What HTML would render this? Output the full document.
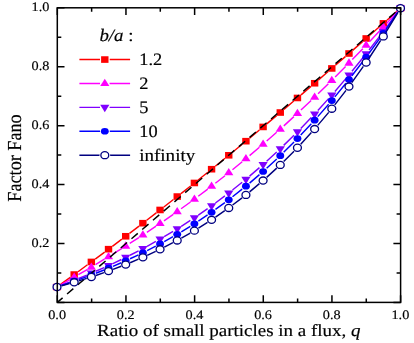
<!DOCTYPE html>
<html><head><meta charset="utf-8"><title>Factor Fano</title>
<style>html,body{margin:0;padding:0;background:#fff;}svg{display:block;will-change:transform;}text{font-family:"Liberation Serif",serif;fill:#000;stroke:#000;stroke-width:0.18px;text-rendering:geometricPrecision;}</style></head>
<body><svg width="414" height="343" viewBox="0 0 414 343">
<path d="M60.88,284.20L70.29,277.37 M78.04,271.71L87.48,264.78 M95.20,259.08L104.67,252.05 M112.36,246.30L121.86,239.16 M129.52,233.37L139.06,226.11 M146.68,220.27L156.25,212.89 M163.83,207.01L173.44,199.51 M180.99,193.58L190.64,185.95 M198.15,179.97L207.83,172.21 M215.30,166.19L225.02,158.31 M232.46,152.24L242.21,144.24 M249.62,138.13L259.41,130.00 M266.78,123.85L276.60,115.61 M283.94,109.42L293.79,101.06 M301.10,94.84L310.98,86.38 M318.26,80.12L328.17,71.57 M335.42,65.29L345.35,56.65 M352.59,50.34L362.54,41.63 M369.75,35.30L379.72,26.54 M386.92,20.19L396.90,11.38" fill="none" stroke="#ff0000" stroke-width="1.45"/>
<rect x="53.30" y="283.72" width="7.4" height="6.6" fill="#ff0000"/>
<rect x="70.47" y="271.25" width="7.4" height="6.6" fill="#ff0000"/>
<rect x="87.65" y="258.64" width="7.4" height="6.6" fill="#ff0000"/>
<rect x="104.83" y="245.88" width="7.4" height="6.6" fill="#ff0000"/>
<rect x="122.00" y="232.97" width="7.4" height="6.6" fill="#ff0000"/>
<rect x="139.18" y="219.90" width="7.4" height="6.6" fill="#ff0000"/>
<rect x="156.35" y="206.66" width="7.4" height="6.6" fill="#ff0000"/>
<rect x="173.53" y="193.25" width="7.4" height="6.6" fill="#ff0000"/>
<rect x="190.70" y="179.67" width="7.4" height="6.6" fill="#ff0000"/>
<rect x="207.88" y="165.91" width="7.4" height="6.6" fill="#ff0000"/>
<rect x="225.05" y="151.99" width="7.4" height="6.6" fill="#ff0000"/>
<rect x="242.23" y="137.89" width="7.4" height="6.6" fill="#ff0000"/>
<rect x="259.40" y="123.63" width="7.4" height="6.6" fill="#ff0000"/>
<rect x="276.57" y="109.22" width="7.4" height="6.6" fill="#ff0000"/>
<rect x="293.75" y="94.66" width="7.4" height="6.6" fill="#ff0000"/>
<rect x="310.93" y="79.96" width="7.4" height="6.6" fill="#ff0000"/>
<rect x="328.10" y="65.14" width="7.4" height="6.6" fill="#ff0000"/>
<rect x="345.27" y="50.20" width="7.4" height="6.6" fill="#ff0000"/>
<rect x="362.45" y="35.17" width="7.4" height="6.6" fill="#ff0000"/>
<rect x="379.62" y="20.07" width="7.4" height="6.6" fill="#ff0000"/>
<rect x="396.80" y="4.90" width="7.4" height="6.6" fill="#ff0000"/>
<path d="M61.16,284.64L70.01,279.56 M78.32,274.74L87.21,269.52 M95.46,264.62L104.41,259.22 M112.60,254.21L121.62,248.59 M129.74,243.46L138.84,237.59 M146.87,232.33L156.06,226.18 M163.99,220.78L173.28,214.32 M181.11,208.77L190.51,201.97 M198.23,196.27L207.74,189.12 M215.35,183.27L224.97,175.73 M232.47,169.74L242.21,161.80 M249.59,155.66L259.44,147.30 M266.70,141.03L276.67,132.25 M283.82,125.84L293.91,116.63 M300.94,110.09L311.14,100.45 M318.06,93.80L328.37,83.72 M335.18,76.96L345.59,66.47 M352.31,59.60L362.82,48.70 M369.44,41.74L380.04,30.44 M386.57,23.41L397.26,11.74" fill="none" stroke="#ff00ff" stroke-width="1.45"/>
<polygon points="52.40,289.62 61.60,289.62 57.00,282.32" fill="#ff00ff"/>
<polygon points="69.58,279.77 78.77,279.77 74.17,272.47" fill="#ff00ff"/>
<polygon points="86.75,269.70 95.95,269.70 91.35,262.40" fill="#ff00ff"/>
<polygon points="103.93,259.34 113.12,259.34 108.53,252.04" fill="#ff00ff"/>
<polygon points="121.10,248.66 130.30,248.66 125.70,241.36" fill="#ff00ff"/>
<polygon points="138.28,237.59 147.47,237.59 142.88,230.29" fill="#ff00ff"/>
<polygon points="155.45,226.11 164.65,226.11 160.05,218.81" fill="#ff00ff"/>
<polygon points="172.62,214.18 181.82,214.18 177.22,206.88" fill="#ff00ff"/>
<polygon points="189.80,201.76 199.00,201.76 194.40,194.46" fill="#ff00ff"/>
<polygon points="206.98,188.83 216.18,188.83 211.58,181.53" fill="#ff00ff"/>
<polygon points="224.15,175.37 233.35,175.37 228.75,168.07" fill="#ff00ff"/>
<polygon points="241.33,161.36 250.53,161.36 245.93,154.06" fill="#ff00ff"/>
<polygon points="258.50,146.80 267.70,146.80 263.10,139.50" fill="#ff00ff"/>
<polygon points="275.67,131.68 284.88,131.68 280.27,124.38" fill="#ff00ff"/>
<polygon points="292.85,115.99 302.05,115.99 297.45,108.69" fill="#ff00ff"/>
<polygon points="310.02,99.75 319.23,99.75 314.62,92.45" fill="#ff00ff"/>
<polygon points="327.20,82.97 336.40,82.97 331.80,75.67" fill="#ff00ff"/>
<polygon points="344.37,65.66 353.57,65.66 348.97,58.36" fill="#ff00ff"/>
<polygon points="361.55,47.84 370.75,47.84 366.15,40.54" fill="#ff00ff"/>
<polygon points="378.72,29.55 387.93,29.55 383.32,22.25" fill="#ff00ff"/>
<polygon points="395.90,10.80 405.10,10.80 400.50,3.50" fill="#ff00ff"/>
<path d="M61.47,285.28L69.70,282.07 M78.61,278.49L86.92,275.05 M95.74,271.27L104.14,267.55 M112.86,263.55L121.37,259.50 M129.97,255.25L138.60,250.82 M147.08,246.31L155.85,241.46 M164.17,236.67L173.10,231.34 M181.26,226.28L190.37,220.41 M198.34,215.07L207.63,208.62 M215.42,203.01L224.90,195.92 M232.49,190.05L242.18,182.27 M249.57,176.14L259.46,167.64 M266.63,161.26L276.74,151.98 M283.70,145.37L294.02,135.27 M300.77,128.45L311.30,117.49 M317.85,110.47L328.58,98.62 M334.92,91.42L345.85,78.65 M352.00,71.28L363.13,57.57 M369.08,50.04L380.39,35.38 M386.17,27.71L397.66,12.07" fill="none" stroke="#8000ff" stroke-width="1.45"/>
<polygon points="52.40,284.42 61.60,284.42 57.00,291.92" fill="#8000ff"/>
<polygon points="69.58,277.73 78.77,277.73 74.17,285.23" fill="#8000ff"/>
<polygon points="86.75,270.61 95.95,270.61 91.35,278.11" fill="#8000ff"/>
<polygon points="103.93,263.01 113.12,263.01 108.53,270.51" fill="#8000ff"/>
<polygon points="121.10,254.84 130.30,254.84 125.70,262.34" fill="#8000ff"/>
<polygon points="138.28,246.04 147.47,246.04 142.88,253.54" fill="#8000ff"/>
<polygon points="155.45,236.54 164.65,236.54 160.05,244.04" fill="#8000ff"/>
<polygon points="172.62,226.28 181.82,226.28 177.22,233.78" fill="#8000ff"/>
<polygon points="189.80,215.21 199.00,215.21 194.40,222.71" fill="#8000ff"/>
<polygon points="206.98,203.28 216.18,203.28 211.58,210.78" fill="#8000ff"/>
<polygon points="224.15,190.45 233.35,190.45 228.75,197.95" fill="#8000ff"/>
<polygon points="241.33,176.67 250.53,176.67 245.93,184.17" fill="#8000ff"/>
<polygon points="258.50,161.91 267.70,161.91 263.10,169.41" fill="#8000ff"/>
<polygon points="275.67,146.13 284.88,146.13 280.27,153.63" fill="#8000ff"/>
<polygon points="292.85,129.31 302.05,129.31 297.45,136.81" fill="#8000ff"/>
<polygon points="310.02,111.43 319.23,111.43 314.62,118.93" fill="#8000ff"/>
<polygon points="327.20,92.47 336.40,92.47 331.80,99.97" fill="#8000ff"/>
<polygon points="344.37,72.41 353.57,72.41 348.97,79.91" fill="#8000ff"/>
<polygon points="361.55,51.24 370.75,51.24 366.15,58.74" fill="#8000ff"/>
<polygon points="378.72,28.98 387.93,28.98 383.32,36.48" fill="#8000ff"/>
<polygon points="395.90,5.60 405.10,5.60 400.50,13.10" fill="#8000ff"/>
<path d="M61.55,285.49L69.63,282.76 M78.69,279.58L86.84,276.62 M95.82,273.21L104.06,269.96 M112.93,266.30L121.29,262.71 M130.04,258.78L138.53,254.79 M147.15,250.56L155.78,246.13 M164.24,241.59L173.04,236.64 M181.32,231.79L190.31,226.27 M198.39,221.09L207.58,214.95 M215.46,209.45L224.87,202.60 M232.52,196.80L242.16,189.19 M249.57,183.09L259.45,174.64 M266.63,168.27L276.75,158.91 M283.68,152.27L294.05,141.96 M300.73,135.07L311.34,123.73 M317.78,116.61L328.64,104.19 M334.84,96.86L345.94,83.29 M351.90,75.77L363.23,61.01 M368.96,53.31L380.51,37.31 M386.03,29.45L397.80,12.17" fill="none" stroke="#0000ff" stroke-width="1.45"/>
<ellipse cx="57.00" cy="287.02" rx="3.95" ry="3.35" fill="#0000ff"/>
<ellipse cx="74.17" cy="281.22" rx="3.95" ry="3.35" fill="#0000ff"/>
<ellipse cx="91.35" cy="274.97" rx="3.95" ry="3.35" fill="#0000ff"/>
<ellipse cx="108.53" cy="268.20" rx="3.95" ry="3.35" fill="#0000ff"/>
<ellipse cx="125.70" cy="260.82" rx="3.95" ry="3.35" fill="#0000ff"/>
<ellipse cx="142.88" cy="252.75" rx="3.95" ry="3.35" fill="#0000ff"/>
<ellipse cx="160.05" cy="243.94" rx="3.95" ry="3.35" fill="#0000ff"/>
<ellipse cx="177.22" cy="234.29" rx="3.95" ry="3.35" fill="#0000ff"/>
<ellipse cx="194.40" cy="223.76" rx="3.95" ry="3.35" fill="#0000ff"/>
<ellipse cx="211.58" cy="212.28" rx="3.95" ry="3.35" fill="#0000ff"/>
<ellipse cx="228.75" cy="199.78" rx="3.95" ry="3.35" fill="#0000ff"/>
<ellipse cx="245.93" cy="186.21" rx="3.95" ry="3.35" fill="#0000ff"/>
<ellipse cx="263.10" cy="171.52" rx="3.95" ry="3.35" fill="#0000ff"/>
<ellipse cx="280.27" cy="155.66" rx="3.95" ry="3.35" fill="#0000ff"/>
<ellipse cx="297.45" cy="138.57" rx="3.95" ry="3.35" fill="#0000ff"/>
<ellipse cx="314.62" cy="120.22" rx="3.95" ry="3.35" fill="#0000ff"/>
<ellipse cx="331.80" cy="100.57" rx="3.95" ry="3.35" fill="#0000ff"/>
<ellipse cx="348.97" cy="79.57" rx="3.95" ry="3.35" fill="#0000ff"/>
<ellipse cx="366.15" cy="57.20" rx="3.95" ry="3.35" fill="#0000ff"/>
<ellipse cx="383.32" cy="33.42" rx="3.95" ry="3.35" fill="#0000ff"/>
<ellipse cx="400.50" cy="8.20" rx="3.95" ry="3.35" fill="#0000ff"/>
<line x1="57.30" y1="302.40" x2="400.60" y2="7.80" stroke="#000" stroke-width="1.45" stroke-dasharray="8.3 5.85" stroke-dashoffset="1.3"/>
<path d="M61.63,285.75L69.55,283.56 M78.76,280.87L86.76,278.41 M95.89,275.44L103.98,272.67 M113.01,269.40L121.21,266.28 M130.12,262.71L138.45,259.20 M147.22,255.30L155.70,251.34 M164.31,247.10L172.96,242.63 M181.39,238.05L190.23,233.01 M198.46,228.08L207.51,222.39 M215.52,217.10L224.80,210.68 M232.57,205.04L242.10,197.80 M249.61,191.82L259.41,183.65 M266.65,177.34L276.73,168.13 M283.67,161.51L294.05,151.15 M300.70,144.23L311.38,132.60 M317.72,125.39L328.71,112.37 M334.74,104.90L346.03,90.34 M351.76,82.64L363.36,66.40 M368.79,58.49L380.68,40.43 M385.82,32.32L398.00,12.30" fill="none" stroke="#000080" stroke-width="1.45"/>
<ellipse cx="57.00" cy="287.02" rx="3.95" ry="3.55" fill="#fff" stroke="#000080" stroke-width="1.3"/>
<ellipse cx="74.17" cy="282.28" rx="3.95" ry="3.55" fill="#fff" stroke="#000080" stroke-width="1.3"/>
<ellipse cx="91.35" cy="276.99" rx="3.95" ry="3.55" fill="#fff" stroke="#000080" stroke-width="1.3"/>
<ellipse cx="108.53" cy="271.11" rx="3.95" ry="3.55" fill="#fff" stroke="#000080" stroke-width="1.3"/>
<ellipse cx="125.70" cy="264.58" rx="3.95" ry="3.55" fill="#fff" stroke="#000080" stroke-width="1.3"/>
<ellipse cx="142.88" cy="257.33" rx="3.95" ry="3.55" fill="#fff" stroke="#000080" stroke-width="1.3"/>
<ellipse cx="160.05" cy="249.30" rx="3.95" ry="3.55" fill="#fff" stroke="#000080" stroke-width="1.3"/>
<ellipse cx="177.22" cy="240.43" rx="3.95" ry="3.55" fill="#fff" stroke="#000080" stroke-width="1.3"/>
<ellipse cx="194.40" cy="230.63" rx="3.95" ry="3.55" fill="#fff" stroke="#000080" stroke-width="1.3"/>
<ellipse cx="211.58" cy="219.83" rx="3.95" ry="3.55" fill="#fff" stroke="#000080" stroke-width="1.3"/>
<ellipse cx="228.75" cy="207.95" rx="3.95" ry="3.55" fill="#fff" stroke="#000080" stroke-width="1.3"/>
<ellipse cx="245.93" cy="194.89" rx="3.95" ry="3.55" fill="#fff" stroke="#000080" stroke-width="1.3"/>
<ellipse cx="263.10" cy="180.57" rx="3.95" ry="3.55" fill="#fff" stroke="#000080" stroke-width="1.3"/>
<ellipse cx="280.27" cy="164.90" rx="3.95" ry="3.55" fill="#fff" stroke="#000080" stroke-width="1.3"/>
<ellipse cx="297.45" cy="147.76" rx="3.95" ry="3.55" fill="#fff" stroke="#000080" stroke-width="1.3"/>
<ellipse cx="314.62" cy="129.06" rx="3.95" ry="3.55" fill="#fff" stroke="#000080" stroke-width="1.3"/>
<ellipse cx="331.80" cy="108.70" rx="3.95" ry="3.55" fill="#fff" stroke="#000080" stroke-width="1.3"/>
<ellipse cx="348.97" cy="86.55" rx="3.95" ry="3.55" fill="#fff" stroke="#000080" stroke-width="1.3"/>
<ellipse cx="366.15" cy="62.49" rx="3.95" ry="3.55" fill="#fff" stroke="#000080" stroke-width="1.3"/>
<ellipse cx="383.32" cy="36.42" rx="3.95" ry="3.55" fill="#fff" stroke="#000080" stroke-width="1.3"/>
<ellipse cx="400.50" cy="8.20" rx="3.95" ry="3.55" fill="#fff" stroke="#000080" stroke-width="1.3"/>
<rect x="57.3" y="7.8" width="343.30" height="294.60" fill="none" stroke="#000" stroke-width="1.5"/>
<path d="M57.30,302.4v-7.2 M57.30,7.8v7.2 M57.3,302.40h7.2 M400.6,302.40h-7.2 M91.63,302.4v-4.0 M91.63,7.8v4.0 M57.3,272.94h4.0 M400.6,272.94h-4.0 M125.96,302.4v-7.2 M125.96,7.8v7.2 M57.3,243.48h7.2 M400.6,243.48h-7.2 M160.29,302.4v-4.0 M160.29,7.8v4.0 M57.3,214.02h4.0 M400.6,214.02h-4.0 M194.62,302.4v-7.2 M194.62,7.8v7.2 M57.3,184.56h7.2 M400.6,184.56h-7.2 M228.95,302.4v-4.0 M228.95,7.8v4.0 M57.3,155.10h4.0 M400.6,155.10h-4.0 M263.28,302.4v-7.2 M263.28,7.8v7.2 M57.3,125.64h7.2 M400.6,125.64h-7.2 M297.61,302.4v-4.0 M297.61,7.8v4.0 M57.3,96.18h4.0 M400.6,96.18h-4.0 M331.94,302.4v-7.2 M331.94,7.8v7.2 M57.3,66.72h7.2 M400.6,66.72h-7.2 M366.27,302.4v-4.0 M366.27,7.8v4.0 M57.3,37.26h4.0 M400.6,37.26h-4.0 M400.60,302.4v-7.2 M400.60,7.8v7.2 M57.3,7.80h7.2 M400.6,7.80h-7.2" stroke="#000" stroke-width="1.5" fill="none"/>
<text transform="translate(57.10,319.00) scale(1.096,1)" font-size="13.0" text-anchor="middle" >0.0</text>
<text transform="translate(125.76,319.00) scale(1.096,1)" font-size="13.0" text-anchor="middle" >0.2</text>
<text transform="translate(49.40,246.98) scale(1.096,1)" font-size="13.0" text-anchor="end" >0.2</text>
<text transform="translate(194.42,319.00) scale(1.096,1)" font-size="13.0" text-anchor="middle" >0.4</text>
<text transform="translate(49.40,188.06) scale(1.096,1)" font-size="13.0" text-anchor="end" >0.4</text>
<text transform="translate(263.08,319.00) scale(1.096,1)" font-size="13.0" text-anchor="middle" >0.6</text>
<text transform="translate(49.40,129.14) scale(1.096,1)" font-size="13.0" text-anchor="end" >0.6</text>
<text transform="translate(331.74,319.00) scale(1.096,1)" font-size="13.0" text-anchor="middle" >0.8</text>
<text transform="translate(49.40,70.22) scale(1.096,1)" font-size="13.0" text-anchor="end" >0.8</text>
<text transform="translate(400.40,319.00) scale(1.096,1)" font-size="13.0" text-anchor="middle" >1.0</text>
<text transform="translate(49.40,11.30) scale(1.096,1)" font-size="13.0" text-anchor="end" >1.0</text>
<text transform="translate(97.10,336.40) scale(1.116,1)" font-size="17.0" text-anchor="start" >Ratio of small particles in a flux, <tspan font-style="italic">q</tspan></text>
<text transform="translate(21.4,158.0) scale(1.09,1) rotate(-90)" font-size="18.2" text-anchor="middle">Factor Fano</text>
<text transform="translate(99.40,40.60) scale(1.078,1)" font-size="17.5" text-anchor="start" ><tspan font-style="italic">b/a</tspan> :</text>
<path d="M79.4,59.55H100.00M109.60,59.55H130.1" stroke="#ff0000" stroke-width="1.45" fill="none"/>
<rect x="101.10" y="56.25" width="7.4" height="6.6" fill="#ff0000" stroke="#fff" stroke-width="1.6" paint-order="stroke"/>
<text transform="translate(139.20,65.05) scale(1.05,1)" font-size="17.5" text-anchor="start" >1.2</text>
<path d="M79.4,83.45H100.00M109.60,83.45H130.1" stroke="#ff00ff" stroke-width="1.45" fill="none"/>
<polygon points="100.20,86.05 109.40,86.05 104.80,78.75" fill="#ff00ff" stroke="#fff" stroke-width="1.6" paint-order="stroke"/>
<text transform="translate(139.20,88.95) scale(1.05,1)" font-size="17.5" text-anchor="start" >2</text>
<path d="M79.4,107.35H100.00M109.60,107.35H130.1" stroke="#8000ff" stroke-width="1.45" fill="none"/>
<polygon points="100.20,104.75 109.40,104.75 104.80,112.25" fill="#8000ff" stroke="#fff" stroke-width="1.6" paint-order="stroke"/>
<text transform="translate(139.20,112.85) scale(1.05,1)" font-size="17.5" text-anchor="start" >5</text>
<path d="M79.4,131.25H100.00M109.60,131.25H130.1" stroke="#0000ff" stroke-width="1.45" fill="none"/>
<ellipse cx="104.80" cy="131.25" rx="3.95" ry="3.35" fill="#0000ff" stroke="#fff" stroke-width="1.6" paint-order="stroke"/>
<text transform="translate(139.20,136.75) scale(1.05,1)" font-size="17.5" text-anchor="start" >10</text>
<path d="M79.4,155.15H100.00M109.60,155.15H130.1" stroke="#000080" stroke-width="1.45" fill="none"/>
<ellipse cx="104.80" cy="155.15" rx="5.3" ry="4.7" fill="#fff"/><ellipse cx="104.80" cy="155.15" rx="3.95" ry="3.55" fill="#fff" stroke="#000080" stroke-width="1.3"/>
<text transform="translate(139.20,160.65) scale(1.087,1)" font-size="17.5" text-anchor="start" >infinity</text>
</svg></body></html>
